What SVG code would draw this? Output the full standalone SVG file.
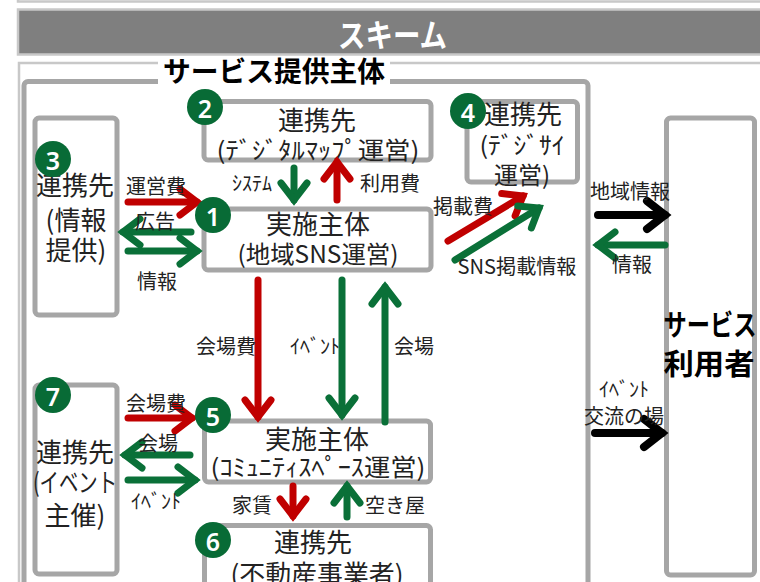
<svg xmlns="http://www.w3.org/2000/svg" width="760" height="582" viewBox="0 0 760 582">
<defs>
<style>
text { font-family: "Noto Sans CJK JP", "Noto Sans", sans-serif; fill: #222; dominant-baseline: central; text-anchor: middle; }
.box { fill: #fff; stroke: #a6a6a6; stroke-width: 5; }
.frame { fill: #fff; stroke: #c8c8c8; stroke-width: 2.5; }
.badge circle { fill: #086b36; }
.badge text { fill: #fff; font-family: "Noto Sans", "Liberation Sans", sans-serif; font-weight: 600; font-size: 25px; }
.nt { font-size: 26px; }
.nt2 { font-size: 24px; }
.lbl { font-size: 20px; }
.arr { fill: none; stroke-width: 7; stroke-linecap: round; }
.r { stroke: #c00000; }
.g { stroke: #0a7038; }
.k { stroke: #000; stroke-width: 8; }
</style>
<marker id="mr" markerUnits="userSpaceOnUse" viewBox="-30 -20 40 40" markerWidth="40" markerHeight="40" refX="0" refY="0" orient="auto" overflow="visible">
<path d="M-17,-13 L0,0 L-17,13" fill="none" stroke="#c00000" stroke-width="7" stroke-linecap="round"/>
</marker>
<marker id="mg" markerUnits="userSpaceOnUse" viewBox="-30 -20 40 40" markerWidth="40" markerHeight="40" refX="0" refY="0" orient="auto" overflow="visible">
<path d="M-17,-13 L0,0 L-17,13" fill="none" stroke="#0a7038" stroke-width="7" stroke-linecap="round"/>
</marker>
<marker id="mk" markerUnits="userSpaceOnUse" viewBox="-30 -20 40 40" markerWidth="40" markerHeight="40" refX="0" refY="0" orient="auto" overflow="visible">
<path d="M-18,-14 L0,0 L-18,14" fill="none" stroke="#000" stroke-width="8" stroke-linecap="round"/>
</marker>
</defs>
<rect width="760" height="582" fill="#fff"/>

<g id="top-frame"><rect class="frame" x="18" y="-30" width="760" height="31.5"/></g>

<g id="title">
<rect x="18" y="9.5" width="760" height="45" fill="#7f7f7f" stroke="#c8c8c8" stroke-width="2.5"/>
<text x="392.5" y="33" font-size="32" font-weight="700" textLength="109" lengthAdjust="spacingAndGlyphs" style="fill:#fff">スキーム</text>
</g>

<g id="outer-frame"><rect class="frame" x="19" y="63" width="760" height="560"/></g>

<g id="provider">
<rect class="box" x="24" y="81.5" width="564" height="560" rx="4"/>
<rect x="158" y="56" width="232" height="30" fill="#fff"/>
<text x="274" y="70" font-size="28" font-weight="700" textLength="222" lengthAdjust="spacingAndGlyphs" style="fill:#000">サービス提供主体</text>
</g>

<g id="node-3">
<rect class="box" x="35" y="118" width="82" height="197" rx="4"/>
<text class="nt" x="75" y="183">連携先</text>
<text class="nt" x="76" y="218">(情報</text>
<text class="nt" x="76" y="248">提供)</text>
</g>

<g id="node-2">
<rect class="box" x="204" y="101.5" width="227" height="58.5" rx="4"/>
<text class="nt" x="317" y="118">連携先</text>
<text class="nt2" x="318" y="148" textLength="203" lengthAdjust="spacingAndGlyphs">(ﾃﾞｼﾞﾀﾙﾏｯﾌﾟ運営)</text>
</g>

<g id="node-1">
<rect class="box" x="204" y="209" width="227" height="61" rx="4"/>
<text class="nt" x="318" y="222">実施主体</text>
<text class="nt2" x="318" y="252" textLength="161" lengthAdjust="spacingAndGlyphs">(地域SNS運営)</text>
</g>

<g id="node-4">
<rect class="box" x="467" y="101.5" width="110.5" height="80.5" rx="4"/>
<text class="nt" x="523" y="112">連携先</text>
<text class="nt2" x="522" y="143" textLength="85" lengthAdjust="spacingAndGlyphs">(ﾃﾞｼﾞｻｲ</text>
<text class="nt2" x="522" y="173">運営)</text>
</g>

<g id="node-5">
<rect class="box" x="204.5" y="421" width="226" height="61" rx="4"/>
<text class="nt" x="317" y="437">実施主体</text>
<text class="nt2" x="318" y="465" textLength="215" lengthAdjust="spacingAndGlyphs">(ｺﾐｭﾆﾃｨｽﾍﾟｰｽ運営)</text>
</g>

<g id="node-6">
<rect class="box" x="204.5" y="525.5" width="226" height="100" rx="4"/>
<text class="nt" x="313" y="540">連携先</text>
<text class="nt" x="317" y="572" textLength="173" lengthAdjust="spacingAndGlyphs">(不動産事業者)</text>
</g>

<g id="node-7">
<rect class="box" x="35" y="385" width="82" height="189" rx="4"/>
<text class="nt" x="75" y="450">連携先</text>
<text class="nt" x="75" y="480" textLength="84" lengthAdjust="spacingAndGlyphs">(イベント</text>
<text class="nt" x="75" y="513">主催)</text>
</g>

<g id="node-users">
<rect class="box" x="666.5" y="118" width="88" height="457" rx="4"/>
<text x="710" y="323" font-size="29" font-weight="700" textLength="93" lengthAdjust="spacingAndGlyphs" style="fill:#000">サービス</text>
<text x="709" y="362" font-size="29" font-weight="700" textLength="91" lengthAdjust="spacingAndGlyphs" style="fill:#000">利用者</text>
</g>

<g id="connectors">
<path class="arr r" d="M128,202 H197" marker-end="url(#mr)"/>
<path class="arr r" d="M337,200 V162" marker-end="url(#mr)"/>
<path class="arr r" d="M448,241 L523,196" marker-end="url(#mr)"/>
<path class="arr r" d="M258,280 V417" marker-end="url(#mr)"/>
<path class="arr r" d="M128,418 H192" marker-end="url(#mr)"/>
<path class="arr r" d="M293,486 V516" marker-end="url(#mr)"/>

<path class="arr g" d="M294,168 V200" marker-end="url(#mg)"/>
<path class="arr g" d="M191,232 H123" marker-end="url(#mg)"/>
<path class="arr g" d="M128,251 H197" marker-end="url(#mg)"/>
<path class="arr g" d="M455,260 L539,208" marker-end="url(#mg)"/>
<path class="arr g" d="M665,245 H598" marker-end="url(#mg)"/>
<path class="arr g" d="M342,280 V415" marker-end="url(#mg)"/>
<path class="arr g" d="M385,422 V287" marker-end="url(#mg)"/>
<path class="arr g" d="M190,455 H125" marker-end="url(#mg)"/>
<path class="arr g" d="M128,480 H195" marker-end="url(#mg)"/>
<path class="arr g" d="M347,517 V486" marker-end="url(#mg)"/>

<path class="arr k" d="M598,215 H665" marker-end="url(#mk)"/>
<path class="arr k" d="M595,433 H662" marker-end="url(#mk)"/>

<g id="connector-labels">
<text class="lbl" x="156" y="185">運営費</text>
<text class="lbl" x="155" y="220">広告</text>
<text class="lbl" x="157" y="280">情報</text>
<text class="lbl" x="252" y="182">ｼｽﾃﾑ</text>
<text class="lbl" x="390" y="182">利用費</text>
<text class="lbl" x="463" y="205">掲載費</text>
<text class="lbl" x="517" y="265" textLength="119" lengthAdjust="spacingAndGlyphs">SNS掲載情報</text>
<text class="lbl" x="630" y="190">地域情報</text>
<text class="lbl" x="632" y="263">情報</text>
<text class="lbl" x="226" y="345">会場費</text>
<text class="lbl" x="315" y="345">ｲﾍﾞﾝﾄ</text>
<text class="lbl" x="414" y="345">会場</text>
<text class="lbl" x="156" y="402">会場費</text>
<text class="lbl" x="158" y="442">会場</text>
<text class="lbl" x="156" y="500">ｲﾍﾞﾝﾄ</text>
<text class="lbl" x="252" y="504">家賃</text>
<text class="lbl" x="395" y="504">空き屋</text>
<text class="lbl" x="624" y="388">ｲﾍﾞﾝﾄ</text>
<text class="lbl" x="624" y="415">交流の場</text>
</g>
</g>

<g id="badges">
<g id="badge-1" class="badge"><circle cx="213" cy="215" r="18"/><text x="213" y="216">1</text></g>
<g id="badge-2" class="badge"><circle cx="205" cy="107" r="18"/><text x="205" y="108">2</text></g>
<g id="badge-3" class="badge"><circle cx="53" cy="159" r="18"/><text x="53" y="160">3</text></g>
<g id="badge-4" class="badge"><circle cx="468" cy="111" r="18"/><text x="468" y="112">4</text></g>
<g id="badge-5" class="badge"><circle cx="213" cy="415" r="18"/><text x="213" y="416">5</text></g>
<g id="badge-6" class="badge"><circle cx="213" cy="540" r="18"/><text x="213" y="541">6</text></g>
<g id="badge-7" class="badge"><circle cx="53" cy="395" r="18"/><text x="53" y="396">7</text></g>
</g>
</svg>
